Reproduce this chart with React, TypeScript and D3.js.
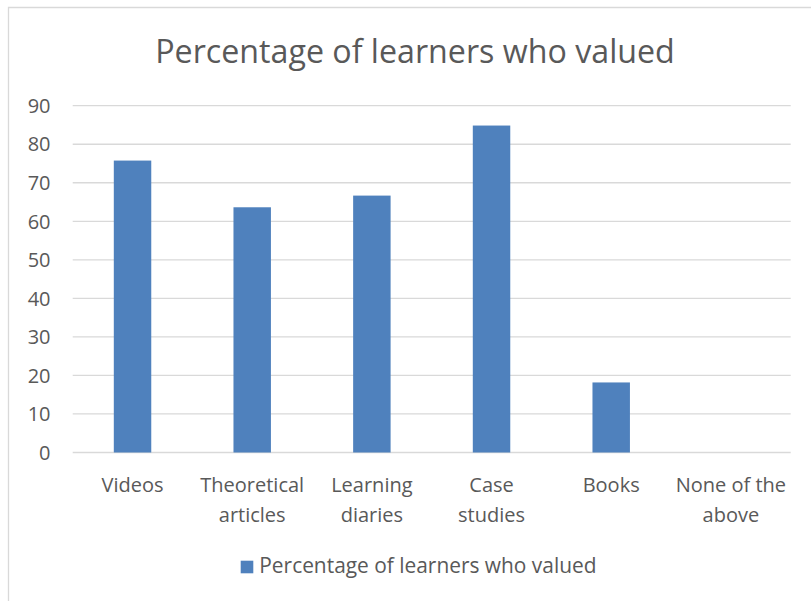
import React from "react";
import * as d3 from "d3";

const categories: string[][] = [
  ["Videos"],
  ["Theoretical", "articles"],
  ["Learning", "diaries"],
  ["Case", "studies"],
  ["Books"],
  ["None of the", "above"],
];
const values: number[] = [75.76, 63.64, 66.67, 84.85, 18.18, 0];
const yTicks: number[] = [0, 10, 20, 30, 40, 50, 60, 70, 80, 90];
const title = "Percentage of learners who valued";
const seriesName = "Percentage of learners who valued";

const W = 811;
const H = 601;
const FONT = "'Open Sans', 'Noto Sans', sans-serif";
const TEXT = "#595959";
const GRID = "#D9D9D9";
const BAR = "#4F81BD";

export default function App() {
  const plotLeft = 72.7;
  const plotRight = 790.7;
  const y0 = 452.5;
  const y90 = 105.7;

  const x = d3
    .scaleBand<number>()
    .domain(d3.range(categories.length))
    .range([plotLeft, plotRight])
    .paddingInner(0.687)
    .paddingOuter(0.3435);
  const y = d3.scaleLinear().domain([0, 90]).range([y0, y90]);

  return (
    <div style={{ position: "fixed", left: 0, top: 0 }}>
      <svg width={W} height={H} style={{ display: "block", background: "#fff" }}>
        <rect x={0} y={0} width={W} height={H} fill="#fff" />
        {/* frame */}
        <path d={`M8.5,${H + 2} L8.5,7.5 L${W + 2},7.5`} fill="none" stroke={GRID} strokeWidth={1.3} />
        {/* title */}
        <text x={415} y={63} textAnchor="middle" fontFamily={FONT} fontSize={32.2} fill={TEXT}>
          {title}
        </text>
        {/* gridlines */}
        {yTicks.map((t) => (
          <line key={t} x1={plotLeft} x2={plotRight} y1={y(t)} y2={y(t)} stroke={GRID} strokeWidth={1.3} />
        ))}
        {/* y tick labels */}
        {yTicks.map((t) => (
          <text
            key={"l" + t}
            x={50.5}
            y={y(t)}
            dy="0.36em"
            textAnchor="end"
            fontFamily={FONT}
            fontSize={20}
            fill={TEXT}
          >
            {t}
          </text>
        ))}
        {/* bars */}
        {values.map((v, i) => (
          <rect key={i} x={x(i)} y={y(v)} width={x.bandwidth()} height={y0 - y(v)} fill={BAR} />
        ))}
        {/* category labels */}
        {categories.map((lines, i) => (
          <text
            key={"c" + i}
            x={(x(i) as number) + x.bandwidth() / 2}
            y={491.5}
            textAnchor="middle"
            fontFamily={FONT}
            fontSize={20}
            fill={TEXT}
          >
            {lines.map((ln, j) => (
              <tspan key={j} x={(x(i) as number) + x.bandwidth() / 2} dy={j === 0 ? 0 : 30}>
                {ln}
              </tspan>
            ))}
          </text>
        ))}
        {/* legend */}
        <rect x={240.7} y={560.7} width={12.6} height={12.6} fill={BAR} />
        <text x={259.3} y={573} fontFamily={FONT} fontSize={20.9} fill={TEXT}>
          {seriesName}
        </text>
      </svg>
    </div>
  );
}
